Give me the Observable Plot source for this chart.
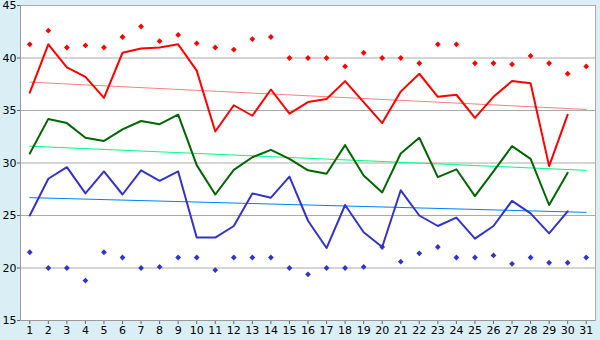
<!DOCTYPE html>
<html>
<head>
<meta charset="utf-8">
<script src="https://cdn.jsdelivr.net/npm/d3@7"></script>
<script src="https://cdn.jsdelivr.net/npm/@observablehq/plot@0.6"></script>
<style>
  html, body { margin: 0; padding: 0; background: #daeef6; }
  #chart svg { display: block; }
</style>
</head>
<body>
<div id="chart"></div>
<script>
const days = d3.range(1, 32);
const highLine = [36.7, 41.3, 39.1, 38.2, 36.2, 40.5, 40.9, 41.0, 41.3, 38.8, 33.0, 35.5, 34.5, 37.0, 34.7, 35.8, 36.1, 37.8, 35.8, 33.8, 36.8, 38.5, 36.3, 36.5, 34.3, 36.3, 37.8, 37.6, 29.7, 34.6, null];
const meanLine = [30.9, 34.2, 33.8, 32.4, 32.1, 33.2, 34.0, 33.7, 34.6, 29.8, 27.0, 29.35, 30.55, 31.25, 30.4, 29.3, 28.97, 31.7, 28.8, 27.2, 30.9, 32.4, 28.65, 29.4, 26.85, 29.2, 31.6, 30.4, 26.0, 29.07, null];
const lowLine = [25.0, 28.5, 29.6, 27.1, 29.2, 27.0, 29.3, 28.3, 29.2, 22.9, 22.9, 24.0, 27.1, 26.7, 28.7, 24.5, 21.9, 26.0, 23.4, 22.0, 27.4, 25.0, 24.0, 24.8, 22.8, 24.0, 26.4, 25.2, 23.3, 25.4, null];
const maxPoints = [41.3, 42.6, 41.0, 41.2, 41.0, 42.0, 43.0, 41.6, 42.2, 41.4, 41.0, 40.8, 41.8, 42.0, 40.0, 40.0, 40.0, 39.2, 40.5, 40.0, 40.0, 39.5, 41.3, 41.3, 39.5, 39.5, 39.4, 40.2, 39.5, 38.5, 39.2];
const minPoints = [21.5, 20.0, 20.0, 18.8, 21.5, 21.0, 20.0, 20.1, 21.0, 21.0, 19.8, 21.0, 21.0, 21.0, 20.0, 19.4, 20.0, 20.0, 20.1, 22.0, 20.6, 21.4, 22.0, 21.0, 21.0, 21.2, 20.4, 21.0, 20.5, 20.5, 21.0];
const trendDays = [1, 31];
const highTrend = [37.7, 35.1];
const meanTrend = [31.6, 29.3];
const lowTrend = [26.7, 25.3];
const yTicks = [15, 20, 25, 30, 35, 40, 45];

const rows = (vals) => days.map((d, i) => ({day: d, v: vals[i]})).filter(r => r.v != null);
const trend = (vals) => trendDays.map((d, i) => ({day: d, v: vals[i]}));

const plot = Plot.plot({
  width: 600,
  height: 340,
  marginLeft: 20,
  marginRight: 5,
  marginTop: 5,
  marginBottom: 20,
  style: {background: "#daeef6", fontFamily: "DejaVu Sans", fontSize: "11px", color: "#000"},
  x: {domain: [0.5, 31.5], label: null},
  y: {domain: [15, 45], label: null},
  marks: [
    Plot.frame({fill: "white", stroke: "#aaaaaa"}),
    Plot.gridY(yTicks.slice(1, -1), {stroke: "#aaaaaa", strokeOpacity: 1}),
    Plot.axisX({ticks: days, tickFormat: d => String(d), tickSize: 4, tickPadding: 2, stroke: "#666", fill: "#000", label: null}),
    Plot.axisY({ticks: yTicks, tickSize: 3, tickPadding: 1, stroke: "#666", fill: "#000", label: null}),
    Plot.ruleX([0.5], {stroke: "#999"}),
    Plot.ruleY([15], {stroke: "#999"}),
    Plot.line(trend(highTrend), {x: "day", y: "v", stroke: "#ff8080", strokeWidth: 1}),
    Plot.line(trend(meanTrend), {x: "day", y: "v", stroke: "#00ff80", strokeWidth: 1}),
    Plot.line(trend(lowTrend), {x: "day", y: "v", stroke: "#0080ff", strokeWidth: 1}),
    Plot.line(rows(highLine), {x: "day", y: "v", stroke: "#ff0000", strokeWidth: 2}),
    Plot.line(rows(meanLine), {x: "day", y: "v", stroke: "#006600", strokeWidth: 2}),
    Plot.line(rows(lowLine), {x: "day", y: "v", stroke: "#3333cc", strokeWidth: 2}),
    Plot.dot(rows(maxPoints), {x: "day", y: "v", symbol: "square", rotate: 45, r: 2.3, fill: "#ff0000", stroke: null}),
    Plot.dot(rows(minPoints), {x: "day", y: "v", symbol: "square", rotate: 45, r: 2.3, fill: "#3333cc", stroke: null})
  ]
});
document.getElementById("chart").appendChild(plot);
</script>
</body>
</html>
